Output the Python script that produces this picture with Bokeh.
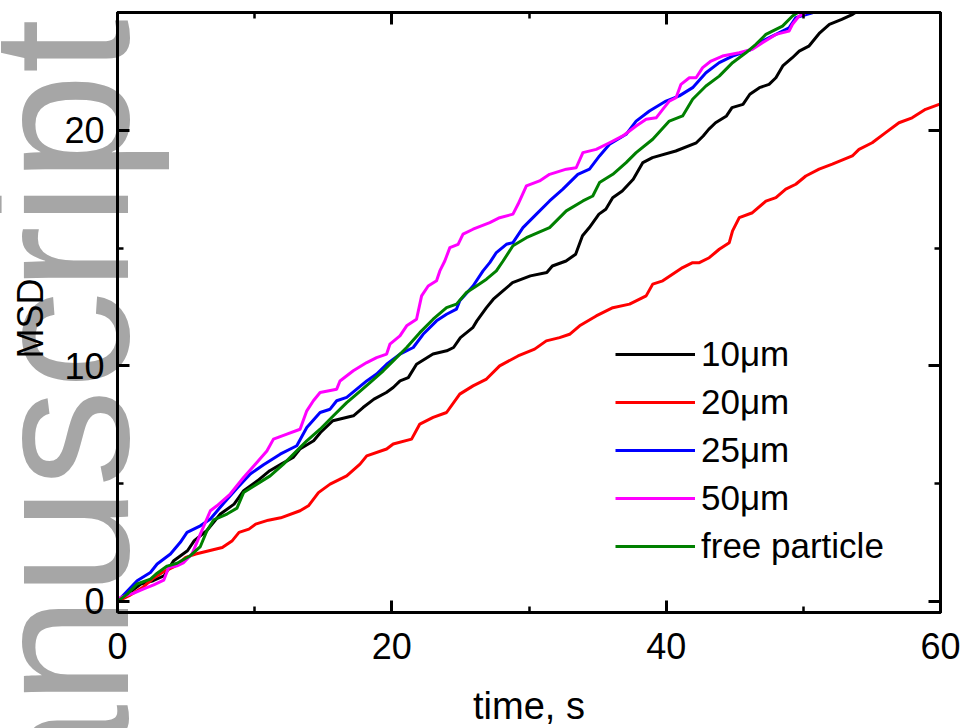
from bokeh.plotting import figure
from bokeh.models import (Range1d, LinearAxis, SingleIntervalTicker, Legend,
                          LegendItem, Title)
from bokeh.embed import file_html
from bokeh.resources import INLINE

# ---------------- data ----------------
t_10 = [0, 1.7, 2.6, 3.4, 4.1, 5.1, 5.6, 6.5, 7.5, 8.5, 9.2, 10.2, 11.1, 12.0,
        12.8, 13.3, 14.3, 14.8, 15.7, 17.2, 17.9, 18.7, 19.6, 20.1, 20.6, 21.2,
        21.8, 23.0, 24.0, 24.5, 25.0, 25.9, 26.2, 26.9, 27.4, 28.1, 28.8, 30.1,
        31.3, 31.7, 32.7, 33.4, 33.9, 34.4, 35.1, 35.6, 36.1, 36.8, 37.6, 38.3,
        39.0, 40.7, 42.2, 42.7, 43.1, 43.6, 44.4, 44.8, 45.6, 46.1, 46.8, 47.5,
        48.0, 48.5, 49.2, 49.7, 50.4, 51.2, 51.9, 52.8, 53.6, 54.3]
msd_10 = [0, 0.74, 0.88, 1.09, 1.73, 2.15, 2.58, 3.0, 3.71, 4.13, 4.70, 5.12,
          5.55, 5.85, 6.11, 6.47, 6.82, 7.17, 7.67, 7.88, 8.23, 8.59, 8.87, 9.08,
          9.36, 9.50, 10.07, 10.50, 10.64, 10.78, 11.20, 11.62, 11.91, 12.47,
          12.83, 13.18, 13.53, 13.82, 13.96, 14.24, 14.45, 14.74, 15.52, 15.87,
          16.44, 16.65, 17.14, 17.42, 17.92, 18.63, 18.84, 19.12, 19.47, 19.76,
          20.04, 20.32, 20.61, 20.96, 21.10, 21.53, 21.81, 21.95, 22.23, 22.73,
          23.08, 23.36, 23.57, 24.14, 24.50, 24.71, 24.92, 25.2]

t_20 = [0, 0.85, 1.82, 2.54, 3.27, 4.24, 4.97, 5.70, 6.67, 7.64, 8.37, 8.86,
        9.58, 10.07, 11.0, 11.9, 13.31, 13.92, 14.65, 15.50, 16.71, 17.68, 18.17,
        19.62, 20.10, 21.44, 22.04, 23.01, 23.99, 24.95, 25.92, 26.90, 27.86,
        29.20, 30.41, 31.26, 32.23, 32.96, 33.69, 34.90, 36.11, 37.33, 37.81,
        38.54, 39.02, 39.75, 41.20, 41.93, 42.42, 43.14, 43.87, 44.60, 44.84,
        45.33, 46.29, 47.27, 48.0, 48.72, 49.45, 50.18, 51.15, 52.11, 53.57,
        54.06, 55.02, 56.0, 56.97, 57.93, 58.91, 60.0]
msd_20 = [0, 0.24, 0.59, 0.95, 1.23, 1.51, 1.87, 2.01, 2.15, 2.29, 2.58, 2.93,
          3.07, 3.28, 3.45, 3.55, 3.85, 4.06, 4.62, 4.98, 5.33, 5.83, 6.18, 6.47,
          6.68, 6.89, 7.53, 7.81, 8.02, 8.80, 9.15, 9.44, 10.0, 10.42, 10.71,
          11.06, 11.20, 11.34, 11.70, 12.12, 12.47, 12.62, 12.76, 12.97, 13.47,
          13.61, 14.17, 14.38, 14.38, 14.59, 14.95, 15.23, 15.73, 16.29, 16.50,
          16.99, 17.14, 17.50, 17.71, 18.06, 18.35, 18.56, 18.91, 19.19, 19.47,
          19.90, 20.32, 20.53, 20.89, 21.12]

t_25 = [0, 1.43, 2.40, 2.89, 3.86, 4.58, 5.07, 6.04, 6.77, 7.74, 8.71, 9.68,
        10.65, 11.86, 13.07, 13.80, 14.77, 15.50, 15.98, 16.71, 17.44, 18.17,
        18.89, 19.62, 20.59, 21.56, 22.28, 23.26, 23.99, 24.71, 24.95, 25.92,
        26.65, 27.14, 27.62, 28.35, 28.83, 29.56, 30.54, 31.50, 32.47, 33.56,
        34.41, 35.14, 35.87, 37.08, 37.81, 38.78, 39.99, 40.96, 41.93, 42.90,
        43.87, 44.84, 46.05, 47.02, 48.0, 48.96, 49.45, 50.66, 51.2]
msd_25 = [0, 0.88, 1.23, 1.59, 2.01, 2.51, 2.93, 3.21, 3.50, 4.17, 4.80, 5.41,
          5.80, 6.25, 6.61, 7.38, 8.02, 8.16, 8.52, 8.66, 9.01, 9.36, 9.65,
          10.07, 10.50, 10.78, 11.34, 11.91, 12.19, 12.41, 12.76, 13.39, 14.03,
          14.38, 14.81, 15.16, 15.23, 15.87, 16.44, 17.0, 17.50, 18.13, 18.35,
          18.91, 19.41, 19.83, 20.39, 20.82, 21.24, 21.46, 21.81, 22.44, 22.87,
          23.15, 23.39, 23.79, 24.07, 24.35, 24.78, 24.99, 25.2]

t_50 = [0, 0.22, 1.19, 1.91, 2.64, 3.37, 3.73, 4.34, 4.83, 5.43, 6.04, 6.77,
        7.25, 8.22, 9.19, 10.16, 10.89, 11.37, 12.35, 13.31, 13.80, 14.28, 14.77,
        15.98, 16.22, 17.19, 18.17, 18.89, 19.62, 19.86, 20.59, 21.08, 21.80,
        22.17, 22.65, 23.26, 23.50, 23.86, 24.23, 24.83, 25.19, 25.92, 27.14,
        27.86, 28.83, 29.20, 29.81, 30.77, 31.50, 32.72, 33.44, 33.93, 34.90,
        35.87, 36.84, 37.81, 38.54, 39.27, 39.75, 40.23, 40.72, 41.08, 41.69,
        42.18, 42.66, 43.27, 44.11, 45.33, 46.29, 47.02, 48.0, 48.96, 49.21,
        49.69, 50.18, 50.6]
msd_50 = [0, 0.17, 0.35, 0.53, 0.70, 0.90, 1.44, 1.51, 1.65, 2.01, 2.86, 3.85,
          4.06, 4.56, 5.26, 5.90, 6.39, 6.89, 7.10, 7.31, 8.09, 8.52, 8.87, 9.01,
          9.36, 9.79, 10.14, 10.35, 10.50, 10.92, 11.27, 11.70, 11.98, 12.97,
          13.39, 13.61, 14.03, 14.45, 15.02, 15.16, 15.59, 15.80, 16.08, 16.29,
          16.44, 16.86, 17.64, 17.85, 18.13, 18.35, 18.41, 19.05, 19.19, 19.47,
          19.76, 20.18, 20.47, 20.53, 20.89, 21.24, 21.38, 21.95, 22.23, 22.23,
          22.66, 22.94, 23.15, 23.29, 23.44, 23.72, 24.07, 24.21, 24.50, 24.85,
          24.99, 25.2]

t_free = [0, 0.71, 1.43, 2.40, 2.89, 3.62, 4.34, 5.31, 6.04, 6.52, 7.01, 7.98,
          8.71, 9.19, 10.16, 11.13, 12.10, 13.07, 13.80, 14.77, 15.74, 16.71,
          17.44, 18.41, 19.38, 20.10, 21.08, 22.04, 23.01, 23.99, 24.71, 25.44,
          26.17, 26.90, 27.62, 28.11, 28.83, 29.81, 31.50, 32.72, 33.93, 34.65,
          35.14, 36.11, 37.08, 37.81, 39.02, 40.23, 41.20, 41.93, 42.90, 43.87,
          44.84, 45.81, 46.54, 47.27, 48.48, 49.21, 49.57, 50.0]
msd_free = [0, 0.31, 0.74, 0.95, 1.20, 1.50, 1.62, 1.94, 2.33, 3.0, 3.46, 3.71,
            3.96, 4.62, 4.98, 5.33, 5.83, 6.39, 6.82, 7.31, 7.88, 8.44, 8.80,
            9.29, 9.79, 10.21, 10.78, 11.41, 11.98, 12.47, 12.62, 13.11, 13.39,
            13.68, 14.03, 14.45, 15.1, 15.44, 15.87, 16.58, 17.0, 17.21, 17.78,
            18.13, 18.63, 19.05, 19.62, 20.39, 20.61, 21.32, 21.88, 22.30, 22.87,
            23.29, 23.65, 24.07, 24.42, 24.85, 24.99, 25.2]

series_labels = ["10\u03bcm", "20\u03bcm", "25\u03bcm", "50\u03bcm", "free particle"]
series_colors = ["#000000", "#ff0000", "#0000ff", "#ff00ff", "#008000"]
x_ticks_step = 20
y_ticks_step = 10
x_title = "time, s"
y_title = "MSD"
watermark_text = "Manuscript"

FONT = "Liberation Sans"

# ---------------- figure ----------------
p = figure(frame_width=823, frame_height=600,
           x_range=Range1d(0, 60), y_range=Range1d(-0.47, 25),
           output_backend="svg", toolbar_location=None,
           min_border_left=117, min_border_right=20,
           min_border_top=12, min_border_bottom=116,
           background_fill_color="white", border_fill_color="white")
p.xgrid.visible = False
p.ygrid.visible = False
p.outline_line_color = "black"
p.outline_line_width = 3


def style_axis(ax, ticker, labels=True):
    ax.ticker = ticker
    ax.level = "annotation"          # drawn above the watermark
    ax.axis_line_width = 3
    ax.axis_line_color = "black"
    ax.major_tick_line_width = 3
    ax.minor_tick_line_width = 2.5
    ax.major_tick_in = 12
    ax.major_tick_out = 0
    ax.minor_tick_in = 6
    ax.minor_tick_out = 0
    ax.major_label_text_font = FONT
    if labels:
        ax.major_label_text_font_size = "36px"
        ax.major_label_text_color = "black"
    else:
        ax.major_label_text_font_size = "0px"
        ax.major_label_text_color = None
        ax.major_label_standoff = 0


style_axis(p.xaxis[0], SingleIntervalTicker(interval=x_ticks_step, num_minor_ticks=2))
style_axis(p.yaxis[0], SingleIntervalTicker(interval=y_ticks_step, num_minor_ticks=2))
p.xaxis[0].major_label_standoff = 20
p.yaxis[0].major_label_standoff = 13

p.xaxis[0].axis_label = x_title
p.xaxis[0].axis_label_text_font = FONT
p.xaxis[0].axis_label_text_font_size = "38px"
p.xaxis[0].axis_label_text_font_style = "normal"
p.xaxis[0].axis_label_text_color = "black"
p.xaxis[0].axis_label_standoff = 23

top_axis = LinearAxis()
style_axis(top_axis, SingleIntervalTicker(interval=x_ticks_step, num_minor_ticks=2), labels=False)
p.add_layout(top_axis, "above")
right_axis = LinearAxis()
style_axis(right_axis, SingleIntervalTicker(interval=y_ticks_step, num_minor_ticks=2), labels=False)
p.add_layout(right_axis, "right")

# watermark: a left-side title that takes (almost) no room, painted under the axes
wm = Title(text=watermark_text, align="left", vertical_align="middle",
           offset=-365, standoff=-219, text_font=FONT, text_font_size="196px",
           text_font_style="normal", text_color="#a6a6a6", level="guide")
p.add_layout(wm, "left")

# y title
ytitle = Title(text=y_title, align="left", vertical_align="top",
               offset=254, standoff=14, text_font=FONT, text_font_size="36px",
               text_font_style="normal", text_color="black")
p.add_layout(ytitle, "left")

series = [(t_10, msd_10), (t_20, msd_20), (t_25, msd_25), (t_50, msd_50),
          (t_free, msd_free)]
renderers = []
for (xs, ys), col in zip(series, series_colors):
    r = p.line(xs, ys, line_color=col, line_width=3, line_join="round")
    renderers.append(r)

legend = Legend(items=[LegendItem(label=lab, renderers=[r])
                       for lab, r in zip(series_labels, renderers)],
                location=(498, 46), orientation="vertical",
                glyph_width=80, glyph_height=40, label_height=40, spacing=8,
                padding=0, margin=0, label_standoff=6,
                label_text_font=FONT, label_text_font_size="35px",
                label_text_color="black",
                border_line_color=None, background_fill_alpha=0)
p.add_layout(legend)

open("out.html", "w").write(file_html(p, INLINE))
